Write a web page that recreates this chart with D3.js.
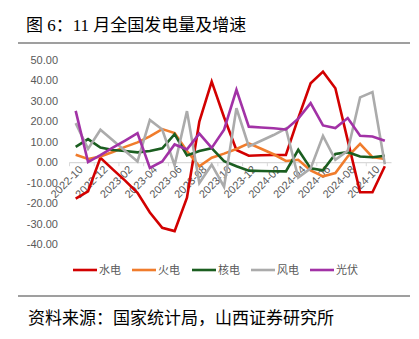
<!DOCTYPE html>
<html>
<head>
<meta charset="utf-8">
<script src="https://cdn.jsdelivr.net/npm/d3@7"></script>
<style>
  html, body { margin: 0; padding: 0; background: #fff; }
  svg { display: block; }
</style>
</head>
<body>
<svg id="chart" width="419" height="339"></svg>
<script>
const months = ["2022-10","2022-11","2022-12","2023-01","2023-02","2023-03","2023-04","2023-05","2023-06","2023-07","2023-08","2023-09","2023-10","2023-11","2023-12","2024-01","2024-02","2024-03","2024-04","2024-05","2024-06","2024-07","2024-08","2024-09","2024-10","2024-11"];
const tickMonths = ["2022-10","2022-12","2023-02","2023-04","2023-06","2023-08","2023-10","2023-12","2024-02","2024-04","2024-06","2024-08","2024-10"];
const yTicks = [50, 40, 30, 20, 10, 0, -10, -20, -30, -40];
const seriesNames = ["水电","火电","核电","风电","光伏"];
const hydro   = [-17.8, -14.2, 2.2, -3.5, -9.0, -15.0, -24.6, -32.1, -33.7, -17.3, 19.9, 39.4, 22.0, 6.0, 3.2, 3.4, 3.5, 3.6, 21.6, 38.6, 44.3, 36.2, 10.7, -14.7, -14.7, -2.0];
const thermal = [3.7, 1.6, 2.8, 5.0, 7.5, 9.7, 12.6, 16.2, 14.3, 5.5, -2.0, 2.2, 4.2, 6.5, 9.2, 6.6, 3.9, 0.6, 1.2, -4.0, -6.9, -5.3, 2.8, 9.0, 2.5, 1.6];
const nuclear = [7.5, 11.3, 7.2, 6.0, 5.5, 4.8, 5.5, 6.8, 13.7, 3.3, 5.5, 6.9, 0.5, -2.0, -4.1, -4.3, -4.4, -4.5, 6.1, -3.0, -4.0, 4.0, 4.9, 2.8, 2.4, 3.2];
const wind    = [19.1, 6.5, 15.9, 10.7, 5.5, 0.4, 20.7, 16.0, -1.5, 25.0, -10.2, -1.2, -12.0, 26.4, 7.7, 10.5, 13.3, 16.5, -7.5, -3.0, 12.9, 1.2, 5.6, 31.7, 34.3, -1.0];
const solar   = [25.1, 0.1, 3.5, 7.1, 10.6, 14.2, -2.8, 0.4, 8.7, 6.3, 14.0, 7.0, 15.9, 35.4, 17.4, 17.0, 16.6, 16.0, 21.3, 28.9, 18.0, 16.7, 21.6, 12.9, 12.6, 10.5];
const colors = ["#D20000", "#F07C2C", "#1B5E20", "#ABABAB", "#A232A6"];

const svg = d3.select("#chart");
const cjk = "'Noto Sans CJK SC', 'Noto Sans', sans-serif";
const latin = "'Liberation Sans', Arial, sans-serif";

// title
svg.append("text").attr("x", 26).attr("y", 31)
  .style("font-family", "'Liberation Serif', 'Noto Sans CJK SC', serif")
  .style("font-size", "17px").attr("fill", "#000")
  .text("图 6：11 月全国发电量及增速");
svg.append("line").attr("x1", 18).attr("x2", 410).attr("y1", 43).attr("y2", 43)
  .attr("stroke", "#7f7f7f").attr("stroke-width", 1.5);

const x = d3.scaleBand().domain(months).range([69.5, 391]).padding(0);
const y = d3.scaleLinear().domain([-40, 50]).range([244, 60]);
const cx = d => x(d) + x.bandwidth() / 2;

// y axis
const yAxis = d3.axisLeft(y).tickValues(yTicks).tickFormat(d => d.toFixed(2)).tickSize(0).tickPadding(0);
const gy = svg.append("g").attr("transform", "translate(58,0)").call(yAxis);
gy.select(".domain").remove();
gy.selectAll("text").style("font-family", latin).style("font-size", "11px").attr("fill", "#595959");

// x axis at zero
const xAxis = d3.axisBottom(x).tickValues(tickMonths).tickSizeInner(0).tickSizeOuter(0);
const gx = svg.append("g").attr("transform", `translate(0,${y(0)})`).call(xAxis);
gx.select(".domain").attr("stroke", "#D9D9D9").attr("stroke-width", 1.2);
gx.selectAll(".tick text")
  .style("font-family", latin).style("font-size", "11px").attr("fill", "#595959")
  .attr("text-anchor", "end").attr("x", 0).attr("y", 0).attr("dy", 0)
  .attr("transform", "translate(8,8) rotate(-45)");
// tick marks at category boundaries
const tickAxis = d3.axisBottom(x).tickValues(tickMonths).tickFormat("").tickSizeInner(4).tickSizeOuter(0);
const gt = svg.append("g").attr("transform", `translate(${-x.bandwidth() / 2},${y(0)})`).call(tickAxis);
gt.select(".domain").remove();
gt.selectAll(".tick line").attr("stroke", "#D9D9D9");

// lines
const allSeries = [hydro, thermal, nuclear, wind, solar];
const line = d3.line().x((d, i) => cx(months[i])).y(d => y(d));
allSeries.forEach((s, k) => {
  svg.append("path").datum(s).attr("d", line)
    .attr("fill", "none").attr("stroke", colors[k]).attr("stroke-width", 2.6)
    .attr("stroke-linejoin", "miter");
});

// legend
const legendX = [73, 132, 192, 251, 310];
seriesNames.forEach((n, k) => {
  const g = svg.append("g").attr("transform", `translate(${legendX[k]},270)`);
  g.append("line").attr("x1", 0).attr("x2", 24).attr("y1", 0).attr("y2", 0)
    .attr("stroke", colors[k]).attr("stroke-width", 2.6);
  g.append("text").attr("x", 26).attr("y", 0).attr("dy", "0.35em")
    .style("font-family", cjk).style("font-size", "11px").attr("fill", "#595959").text(n);
});

// source
svg.append("line").attr("x1", 18).attr("x2", 410).attr("y1", 296).attr("y2", 296)
  .attr("stroke", "#7f7f7f").attr("stroke-width", 1.5);
svg.append("text").attr("x", 28).attr("y", 324)
  .style("font-family", cjk).style("font-size", "17px").attr("fill", "#000")
  .text("资料来源：国家统计局，山西证券研究所");
</script>
</body>
</html>
